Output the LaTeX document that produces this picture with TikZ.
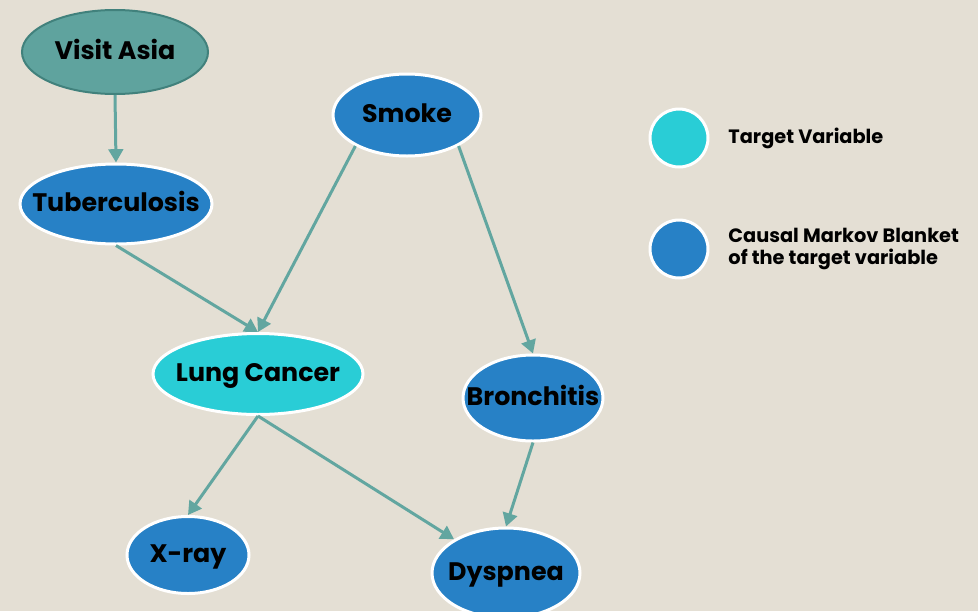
\documentclass[tikz,border=0pt]{standalone}
\usepackage{fontspec}
\setmainfont{Poppins}
\usetikzlibrary{positioning, arrows.meta, shapes.geometric}
\definecolor{paper}{HTML}{E4DFD4}
\definecolor{asiafill}{HTML}{5FA39E}
\definecolor{asiaborder}{HTML}{41817C}
\definecolor{blanketblue}{HTML}{2781C6}
\definecolor{targetcyan}{HTML}{29CDD6}
\definecolor{arrowteal}{HTML}{62A6A0}
\tikzset{
  % Variable nodes
  varnode/.style={
    ellipse, inner xsep=-20pt, inner ysep=-2pt, align=center,
    text height=13.5pt, text depth=2.5pt,
    font=\fontsize{19}{22}\selectfont\bfseries
  },
  rootvar/.style={
    varnode, draw=asiaborder, fill=asiafill, line width=1.5pt
  },
  blanketvar/.style={
    varnode, draw=white, fill=blanketblue, line width=2.25pt
  },
  targetvar/.style={
    varnode, draw=white, fill=targetcyan, line width=2.25pt
  },
  % Legend
  keydot/.style={
    circle, draw=white, line width=2.25pt, minimum size=43.5pt, inner sep=0pt
  },
  keytext/.style={
    inner sep=0pt, align=left,
    font=\fontsize{14.5}{17}\selectfont\bfseries
  },
  % Causal arrow
  causal/.style={
    draw=arrowteal, line width=2.25pt,
    -{Triangle[length=10pt, width=11pt]}
  },
}

\begin{document}
\begin{tikzpicture}[x=0.75pt, y=-0.75pt]

  %% ── Background ──
  \fill[paper] (0,0) rectangle (978,611);
  \useasboundingbox (0,0) rectangle (978,611);

  %% ── Variables ──
  \node[rootvar, minimum width=139.5pt, minimum height=63pt] (asia) at (115,52) {Visit Asia};
  \node[blanketvar, minimum width=111pt, minimum height=61.5pt] (smoke) at (407,115) {Smoke};
  \node[blanketvar, minimum width=144pt, minimum height=60pt] (tub) at (116,204) {Tuberculosis};
  \node[targetvar, minimum width=157.5pt, minimum height=60.75pt] (lung) at (258,374) {Lung Cancer};
  \node[blanketvar, minimum width=105pt, minimum height=64.5pt] (bronc) at (533,398) {Bronchitis};
  \node[blanketvar, minimum width=91.5pt, minimum height=57.75pt] (xray) at (188,555) {X-ray};
  \node[blanketvar, minimum width=111pt, minimum height=67.5pt] (dysp) at (506,573) {Dyspnea};

  %% ── Legend ──
  \node[keydot, fill=targetcyan] (keytarget) at (679,138) {};
  \node[keytext, right=14pt of keytarget] (keytargettxt) {Target Variable};
  \node[keydot, fill=blanketblue] (keyblanket) at (679,249) {};
  \node[keytext, right=14pt of keyblanket] (keyblankettxt) {Causal Markov Blanket\\of the target variable};

  %% ── Causal links ──
  \draw[causal] (asia.south) -- (tub.north);
  \draw[causal] (tub.south) -- (lung.north);
  \draw[causal] (smoke.211) -- (lung.north);
  \draw[causal] (smoke.-31) -- (bronc.north);
  \draw[causal] (lung.south) -- (xray.north);
  \draw[causal] (lung.south) -- (dysp.147);
  \draw[causal] (bronc.south) -- (dysp.north);

\end{tikzpicture}
\end{document}
